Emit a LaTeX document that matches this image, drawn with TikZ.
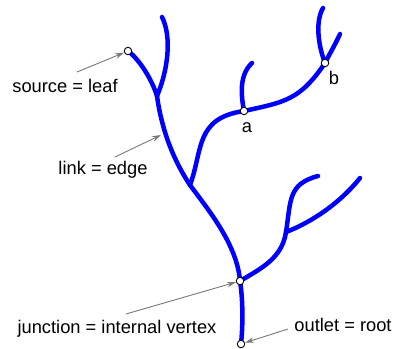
\documentclass[tikz,border=0pt]{standalone}
\usepackage{fontspec}
\setmainfont{Liberation Sans}
\usetikzlibrary{arrows.meta}
\definecolor{riverblue}{RGB}{0,0,255}
\definecolor{arrowgray}{RGB}{120,120,120}
\begin{document}
\begin{tikzpicture}[x=1pt,y=-1pt,
  river/.style={draw=riverblue,line width=4.5pt,line cap=round},
  vtx/.style={circle,draw=black,fill=white,line width=0.9pt,minimum size=7.5pt,inner sep=0pt},
  pointer/.style={draw=arrowgray,line width=0.9pt,-{Stealth[length=9pt,width=5.5pt]}},
  lbl/.style={font=\fontsize{18.3}{22}\selectfont,inner sep=0pt,anchor=base}]
\useasboundingbox (0,0) rectangle (398,348);
% points
\coordinate (src) at (128,51);
\coordinate (t1) at (162,17);
\coordinate (j1) at (157,96);
\coordinate (j2) at (190,185);
\coordinate (j3) at (240,281);
\coordinate (av) at (244,111);
\coordinate (ta) at (252,63);
\coordinate (bv) at (325,63);
\coordinate (tb1) at (323,8);
\coordinate (tb2) at (340,34);
\coordinate (j4) at (286,232);
\coordinate (t4) at (318,176);
\coordinate (t5) at (360,178);
\coordinate (out) at (241,344);
% rivers
\path[river] (src) .. controls (140,60) and (152,80) .. (j1);
\path[river] (t1) .. controls (172,37) and (168,70) .. (j1);
\path[river] (j1) .. controls (160,118) and (168,152) .. (j2);
\path[river] (j2) .. controls (210,212) and (237,245) .. (j3);
\path[river] (j2) .. controls (203,150) and (195,118) .. (av);
\path[river] (av) .. controls (241,95) and (239,75) .. (ta);
\path[river] (av) .. controls (285,102) and (300,100) .. (bv);
\path[river] (bv) .. controls (317,42) and (316,20) .. (tb1);
\path[river] (bv) .. controls (330,53) and (335,45) .. (tb2);
\path[river] (j3) .. controls (262,268) and (282,258) .. (j4);
\path[river] (j4) .. controls (291,200) and (288,184) .. (t4);
\path[river] (j4) .. controls (312,222) and (340,203) .. (t5);
\path[river] (j3) .. controls (243,300) and (243,325) .. (out);
% vertices
\node[vtx] (srcv) at (src) {};
\node[vtx] (avv) at (av) {};
\node[vtx] (bvv) at (bv) {};
\node[vtx] (j3v) at (j3) {};
\node[vtx] (outv) at (out) {};
% labels
\node[lbl] (la) at (247,132) {a};
\node[lbl] (lb) at (334,84) {b};
\node[lbl] (lsrc) at (65,92) {source = leaf};
\node[lbl] (llink) at (103,174) {link = edge};
\node[lbl] (ljunc) at (117,333) {junction = internal vertex};
\node[lbl] (lout) at (343,331) {outlet = root};
% pointers
\coordinate (p1) at (77,72);
\coordinate (p2) at (115,157);
\coordinate (p3) at (126,314);
\coordinate (p4) at (288,329);
\coordinate (e2) at (161,135);
\draw[pointer] (p1) -- (srcv);
\draw[pointer] (p2) -- (e2);
\draw[pointer] (p3) -- (j3v);
\draw[pointer] (p4) -- (outv);
\end{tikzpicture}
\end{document}
